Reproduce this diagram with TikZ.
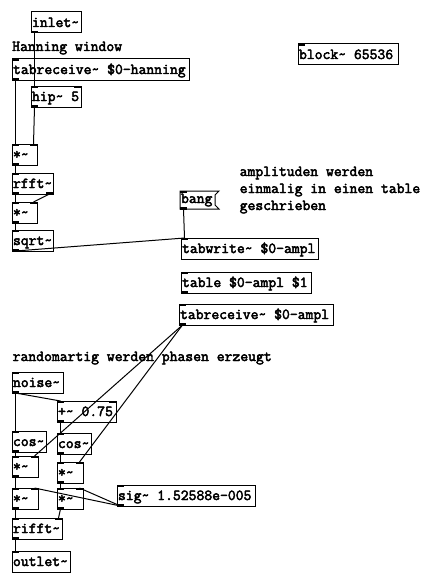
\documentclass[tikz,border=0pt]{standalone}
\usepackage{fontspec}
\newfontfamily\pdfont[FakeBold=3]{Latin Modern Mono}
\newcommand\tl{\char"7E\relax}
\tikzset{
  pdfnt/.style={font=\pdfont\fontsize{15.24}{17}\selectfont},
  pdbox/.style={pdfnt, draw, line width=1pt, inner sep=0pt, outer sep=0pt,
    anchor=north west, minimum height=21pt, text height=11pt, text depth=2pt},
  pdmsg/.style={pdfnt, inner sep=0pt, outer sep=0pt,
    anchor=north west, minimum height=18pt, text height=9pt, text depth=3pt},
  cmt/.style={pdfnt, inner sep=0pt, anchor=base west},
  wire/.style={line width=1pt}
}
\newcommand\pdobj[5]{\node[pdbox] (#1) at (#2,#3) {\makebox[#4pt][l]{\hspace{1pt}#5}};}
\newcommand\pdIL[1]{\fill ([xshift=-0.5pt,yshift=0.5pt]#1.north west) rectangle ++(7.5,2.5);}
\newcommand\pdIR[1]{\fill ([xshift=0.5pt,yshift=0.5pt]#1.north east) rectangle ++(-7.5,2.5);}
\newcommand\pdOL[1]{\fill ([xshift=-0.5pt,yshift=-0.5pt]#1.south west) rectangle ++(7.5,-2.5);}
\newcommand\pdOR[1]{\fill ([xshift=0.5pt,yshift=-0.5pt]#1.south east) rectangle ++(-7.5,-2.5);}
\begin{document}
\begin{tikzpicture}[x=1pt,y=-1pt]
\useasboundingbox (0,0) rectangle (432,586);
\fill[white] (0,0) rectangle (432,586);

% objects
\pdobj{inlet}{31}{12}{50}{inlet\tl}
\pdobj{tabrecvH}{12}{59}{177}{tabreceive\tl{} \$0-hanning}
\pdobj{hip}{31}{86}{50}{hip\tl{} 5}
\pdobj{mula}{12}{144}{25}{*\tl}
\pdobj{rfft}{12}{173}{41}{rfft\tl}
\pdobj{mulb}{12}{202}{25}{*\tl}
\pdobj{sqrt}{12}{230}{41}{sqrt\tl}
\node[pdmsg] (bang) at (180,191) {\makebox[35pt][l]{\hspace{1pt}bang}};
\draw[line width=1pt] (bang.north west) -- ([xshift=4pt]bang.north east)
  -- ([yshift=-4pt]bang.north east) -- ([yshift=4pt]bang.south east)
  -- ([xshift=4pt]bang.south east) -- (bang.south west) -- cycle;
\pdobj{tabwrite}{181}{238}{137}{tabwrite\tl{} \$0-ampl}
\pdobj{table}{181}{272}{130}{table \$0-ampl \$1}
\pdobj{tabrecvA}{179}{304}{154}{tabreceive\tl{} \$0-ampl}
\pdobj{block}{298}{44}{100}{block\tl{} 65536}
\pdobj{noise}{12}{372}{51}{noise\tl}
\pdobj{plus}{57}{401}{59}{+\tl{} 0.75}
\pdobj{cosL}{12}{431}{34}{cos\tl}
\pdobj{cosR}{57}{433}{34}{cos\tl}
\pdobj{mulLa}{12}{456}{26}{*\tl}
\pdobj{mulRa}{57}{462}{26}{*\tl}
\pdobj{mulLb}{12}{488}{26}{*\tl}
\pdobj{mulRb}{57}{488}{26}{*\tl}
\pdobj{sig}{117}{485}{138}{sig\tl{} 1.52588e-005}
\pdobj{rifft}{12}{518}{50}{rifft\tl}
\pdobj{outlet}{12}{551}{58}{outlet\tl}

% comments
\node[cmt] (c1) at (12,51) {Hanning window};
\node[cmt] (c2) at (239.5,176) {amplituden werden};
\node[cmt] (c3) at (239.5,193) {einmalig in einen table};
\node[cmt] (c4) at (239.5,210) {geschrieben};
\node[cmt] (c5) at (12.5,361) {randomartig werden phasen erzeugt};

% inlets / outlets
\pdOL{inlet}
\pdIL{tabrecvH}\pdOL{tabrecvH}
\pdIL{hip}\pdIR{hip}\pdOL{hip}
\pdIL{mula}\pdIR{mula}\pdOL{mula}
\pdIL{rfft}\pdOL{rfft}\pdOR{rfft}
\pdIL{mulb}\pdIR{mulb}\pdOL{mulb}
\pdIL{sqrt}\pdOL{sqrt}
\pdIL{bang}\pdOL{bang}
\pdIL{tabwrite}
\pdIL{table}\pdOL{table}
\pdIL{tabrecvA}\pdOL{tabrecvA}
\pdIL{block}
\pdIL{noise}\pdOL{noise}
\pdIL{plus}\pdIR{plus}\pdOL{plus}
\pdIL{cosL}\pdOL{cosL}
\pdIL{cosR}\pdOL{cosR}
\pdIL{mulLa}\pdIR{mulLa}\pdOL{mulLa}
\pdIL{mulRa}\pdIR{mulRa}\pdOL{mulRa}
\pdIL{mulLb}\pdIR{mulLb}\pdOL{mulLb}
\pdIL{mulRb}\pdIR{mulRb}\pdOL{mulRb}
\pdIL{sig}\pdOL{sig}
\pdIL{rifft}\pdIR{rifft}\pdOL{rifft}
\pdIL{outlet}

% connections
\draw[wire] ([xshift=3.5pt]inlet.south west) -- ([xshift=3.5pt]hip.north west);
\draw[wire] ([xshift=3.5pt]hip.south west) -- ([xshift=-3.5pt]mula.north east);
\draw[wire] ([xshift=3.5pt]tabrecvH.south west) -- ([xshift=3.5pt]mula.north west);
\draw[wire] ([xshift=3.5pt]mula.south west) -- ([xshift=3.5pt]rfft.north west);
\draw[wire] ([xshift=3.5pt]rfft.south west) -- ([xshift=3.5pt]mulb.north west);
\draw[wire] ([xshift=-3.5pt]rfft.south east) -- ([xshift=-3.5pt]mulb.north east);
\draw[wire] ([xshift=3.5pt]mulb.south west) -- ([xshift=3.5pt]sqrt.north west);
\draw[wire] ([xshift=3.5pt]sqrt.south west) -- ([xshift=3.5pt]tabwrite.north west);
\draw[wire] ([xshift=3.5pt]bang.south west) -- ([xshift=3.5pt]tabwrite.north west);
\draw[wire] ([xshift=3.5pt]noise.south west) -- ([xshift=3.5pt]cosL.north west);
\draw[wire] ([xshift=3.5pt]noise.south west) -- ([xshift=3.5pt]plus.north west);
\draw[wire] ([xshift=3.5pt]plus.south west) -- ([xshift=3.5pt]cosR.north west);
\draw[wire] ([xshift=3.5pt]cosL.south west) -- ([xshift=3.5pt]mulLa.north west);
\draw[wire] ([xshift=3.5pt]cosR.south west) -- ([xshift=3.5pt]mulRa.north west);
\draw[wire] ([xshift=3.5pt]tabrecvA.south west) -- ([xshift=-3.5pt]mulLa.north east);
\draw[wire] ([xshift=3.5pt]tabrecvA.south west) -- ([xshift=-3.5pt]mulRa.north east);
\draw[wire] ([xshift=3.5pt]mulLa.south west) -- ([xshift=3.5pt]mulLb.north west);
\draw[wire] ([xshift=3.5pt]mulRa.south west) -- ([xshift=3.5pt]mulRb.north west);
\draw[wire] ([xshift=3.5pt]sig.south west) -- ([xshift=-3.5pt]mulLb.north east);
\draw[wire] ([xshift=3.5pt]sig.south west) -- ([xshift=-3.5pt]mulRb.north east);
\draw[wire] ([xshift=3.5pt]mulLb.south west) -- ([xshift=3.5pt]rifft.north west);
\draw[wire] ([xshift=3.5pt]mulRb.south west) -- ([xshift=-3.5pt]rifft.north east);
\draw[wire] ([xshift=3.5pt]rifft.south west) -- ([xshift=3.5pt]outlet.north west);
\end{tikzpicture}
\end{document}
